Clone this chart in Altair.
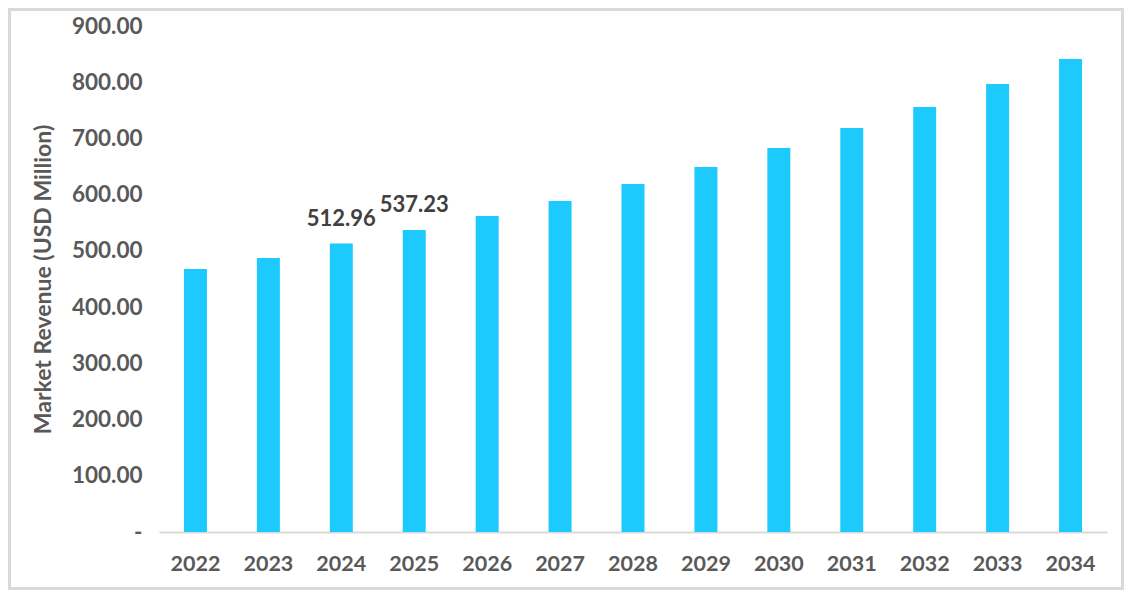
import altair as alt
import pandas as pd

years = ["2022", "2023", "2024", "2025", "2026", "2027", "2028", "2029", "2030", "2031", "2032", "2033", "2034"]
revenue = [467.8, 487.4, 512.96, 537.23, 562.1, 588.8, 619.0, 649.2, 683.0, 718.6, 756.0, 796.9, 841.4]
label_years = ["2024", "2025"]

df = pd.DataFrame({"year": years, "revenue": revenue})
df["label"] = [f"{v:.2f}" if y in label_years else "" for y, v in zip(years, revenue)]

FONT = "Lato"
W, H = 948, 506
PL, PT, PR, PB = 151, 18, 17, 58

x = alt.X("year:N", sort=years, title=None,
          scale=alt.Scale(paddingInner=0.685, paddingOuter=0.3425),
          axis=alt.Axis(labelAngle=0, labelFont=FONT, labelFontSize=21.5, labelFontWeight="bold",
                        labelColor="#595959", labelPadding=21, ticks=False,
                        domainColor="#D9D9D9", domainWidth=2))
y = alt.Y("revenue:Q", title="Market Revenue (USD Million)",
          scale=alt.Scale(domain=[0, 900], nice=False),
          axis=alt.Axis(values=list(range(0, 1000, 100)), grid=False, domain=False, ticks=False,
                        labelExpr="datum.value == 0 ? '-' : format(datum.value, '.2f')",
                        labelFont=FONT, labelFontSize=22.5, labelFontWeight="bold",
                        labelColor="#595959", labelPadding=17,
                        titleFont=FONT, titleFontSize=23, titleFontWeight="bold",
                        titleColor="#595959", titlePadding=16))

bars = alt.Chart(df).mark_bar(color="#1CCAFE").encode(x=x, y=y)
labels = alt.Chart(df).mark_text(font=FONT, fontSize=22, fontWeight="bold", color="#404040",
                                 baseline="bottom", dy=-13).encode(x=x, y="revenue:Q", text="label:N")
frame = alt.Chart(df).mark_rect(fill=None, stroke="#D9D9D9", strokeWidth=3).encode(
    x=alt.value(-PL + 1.5), x2=alt.value(W + PR - 1.5),
    y=alt.value(-PT + 1.5), y2=alt.value(H + PB - 1.5))

chart = alt.layer(frame, bars, labels).properties(
    width=W, height=H,
    autosize=alt.AutoSizeParams(type="none"),
    padding={"left": PL, "top": PT, "right": PR, "bottom": PB},
    background="white",
).configure_view(stroke=None)

chart.save("out.html", embed_options={"renderer": "svg", "actions": False})
